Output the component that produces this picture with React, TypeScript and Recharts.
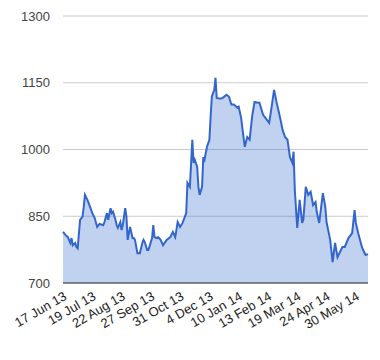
import React from 'react'
import { AreaChart, Area, XAxis, YAxis, CartesianGrid } from 'recharts'

// trading-session index (0 = 17 Jun 13) and closing price
const sessions = [
  0, 2, 4, 6, 7, 8, 10, 11, 12, 14, 16, 17, 18, 20, 21, 24, 26, 28, 30, 33,
  34, 36, 37, 39, 40, 41, 43, 44, 45, 47, 48, 49, 51, 52, 53, 55, 57, 58, 59, 61,
  63, 65, 66, 67, 69, 70, 73, 74, 75, 77, 78, 80, 82, 85, 88, 90, 92, 94, 96, 98,
  101, 102, 104, 106, 107, 108, 110, 111, 112, 114, 115, 116, 118, 120, 121, 122, 124, 125, 126, 129,
  131, 134, 136, 138, 140, 143, 144, 146, 148, 149, 151, 153, 155, 157, 160, 161, 164, 167, 169, 171,
  173, 175, 178, 180, 182, 184, 186, 188, 189, 190, 192, 194, 196, 197, 199, 201, 203, 205, 207, 208,
  210, 211, 213, 215, 216, 219, 221, 223, 225, 229, 231, 234, 237, 239, 240, 242, 245, 246, 248, 250,
]
const prices = [
  815, 808, 803, 790, 801, 785, 790, 781, 778, 842, 849, 871, 898, 887, 880, 857, 846, 826, 833, 830,
  837, 857, 842, 868, 857, 860, 842, 830, 824, 837, 819, 830, 868, 849, 797, 826, 801, 801, 797, 767,
  767, 790, 797, 792, 774, 774, 801, 830, 803, 801, 803, 797, 785, 797, 803, 815, 803, 837, 826, 835,
  857, 925, 916, 1022, 970, 977, 961, 916, 898, 916, 983, 977, 1006, 1022, 1074, 1119, 1134, 1161, 1116, 1114,
  1116, 1123, 1119, 1101, 1101, 1094, 1096, 1071, 1026, 1006, 1028, 1022, 1074, 1107, 1105, 1105, 1078, 1067, 1060, 1096,
  1134, 1107, 1071, 1044, 1028, 1022, 983, 970, 995, 909, 824, 887, 835, 842, 916, 898, 905, 875, 882, 860,
  835, 857, 902, 871, 837, 797, 747, 790, 758, 781, 781, 801, 812, 864, 835, 812, 781, 774, 763, 765,
]

const tickSessions = [0, 24, 48, 72, 96, 120, 144, 168, 192, 216, 240]
const tickLabels = [
  '17 Jun 13', '19 Jul 13', '22 Aug 13', '27 Sep 13', '31 Oct 13', '4 Dec 13',
  '10 Jan 14', '13 Feb 14', '19 Mar 14', '24 Apr 14', '30 May 14',
]
const yTicks = [700, 850, 1000, 1150, 1300]

const data = sessions.map((s, i) => ({ s, price: prices[i] }))

const FONT = '"Liberation Sans", Arial, sans-serif'

const RotatedTick = ({ x, y, payload }: any) => {
  const idx = tickSessions.indexOf(payload.value)
  return (
    <g transform={`translate(${x},${y})`}>
      <text
        textAnchor="end"
        transform="rotate(-30)"
        dy="0.7em"
        fontSize={13}
        fontFamily={FONT}
        fill="#222"
      >
        {tickLabels[idx]}
      </text>
    </g>
  )
}

export default function App() {
  return (
    <div style={{ margin: -8, width: 380, height: 360, background: '#fff' }}>
      <AreaChart
        width={380}
        height={360}
        data={data}
        margin={{ top: 16, right: 12, left: 0, bottom: 17 }}
      >
        <CartesianGrid vertical={false} stroke="#cccccc" />
        <XAxis
          dataKey="s"
          type="number"
          domain={[0, 250]}
          ticks={tickSessions}
          tickLine={false}
          axisLine={{ stroke: '#333' }}
          tick={<RotatedTick />}
          height={60}
          interval={0}
        />
        <YAxis
          domain={[700, 1300]}
          ticks={yTicks}
          width={63}
          tickLine={false}
          axisLine={false}
          tickMargin={7}
          tick={{ fontSize: 13, fill: '#444', fontFamily: FONT }}
        />
        <Area
          type="linear"
          dataKey="price"
          stroke="#3366cc"
          strokeWidth={2}
          fill="#3366cc"
          fillOpacity={0.3}
          isAnimationActive={false}
          dot={false}
          activeDot={false}
        />
      </AreaChart>
    </div>
  )
}
